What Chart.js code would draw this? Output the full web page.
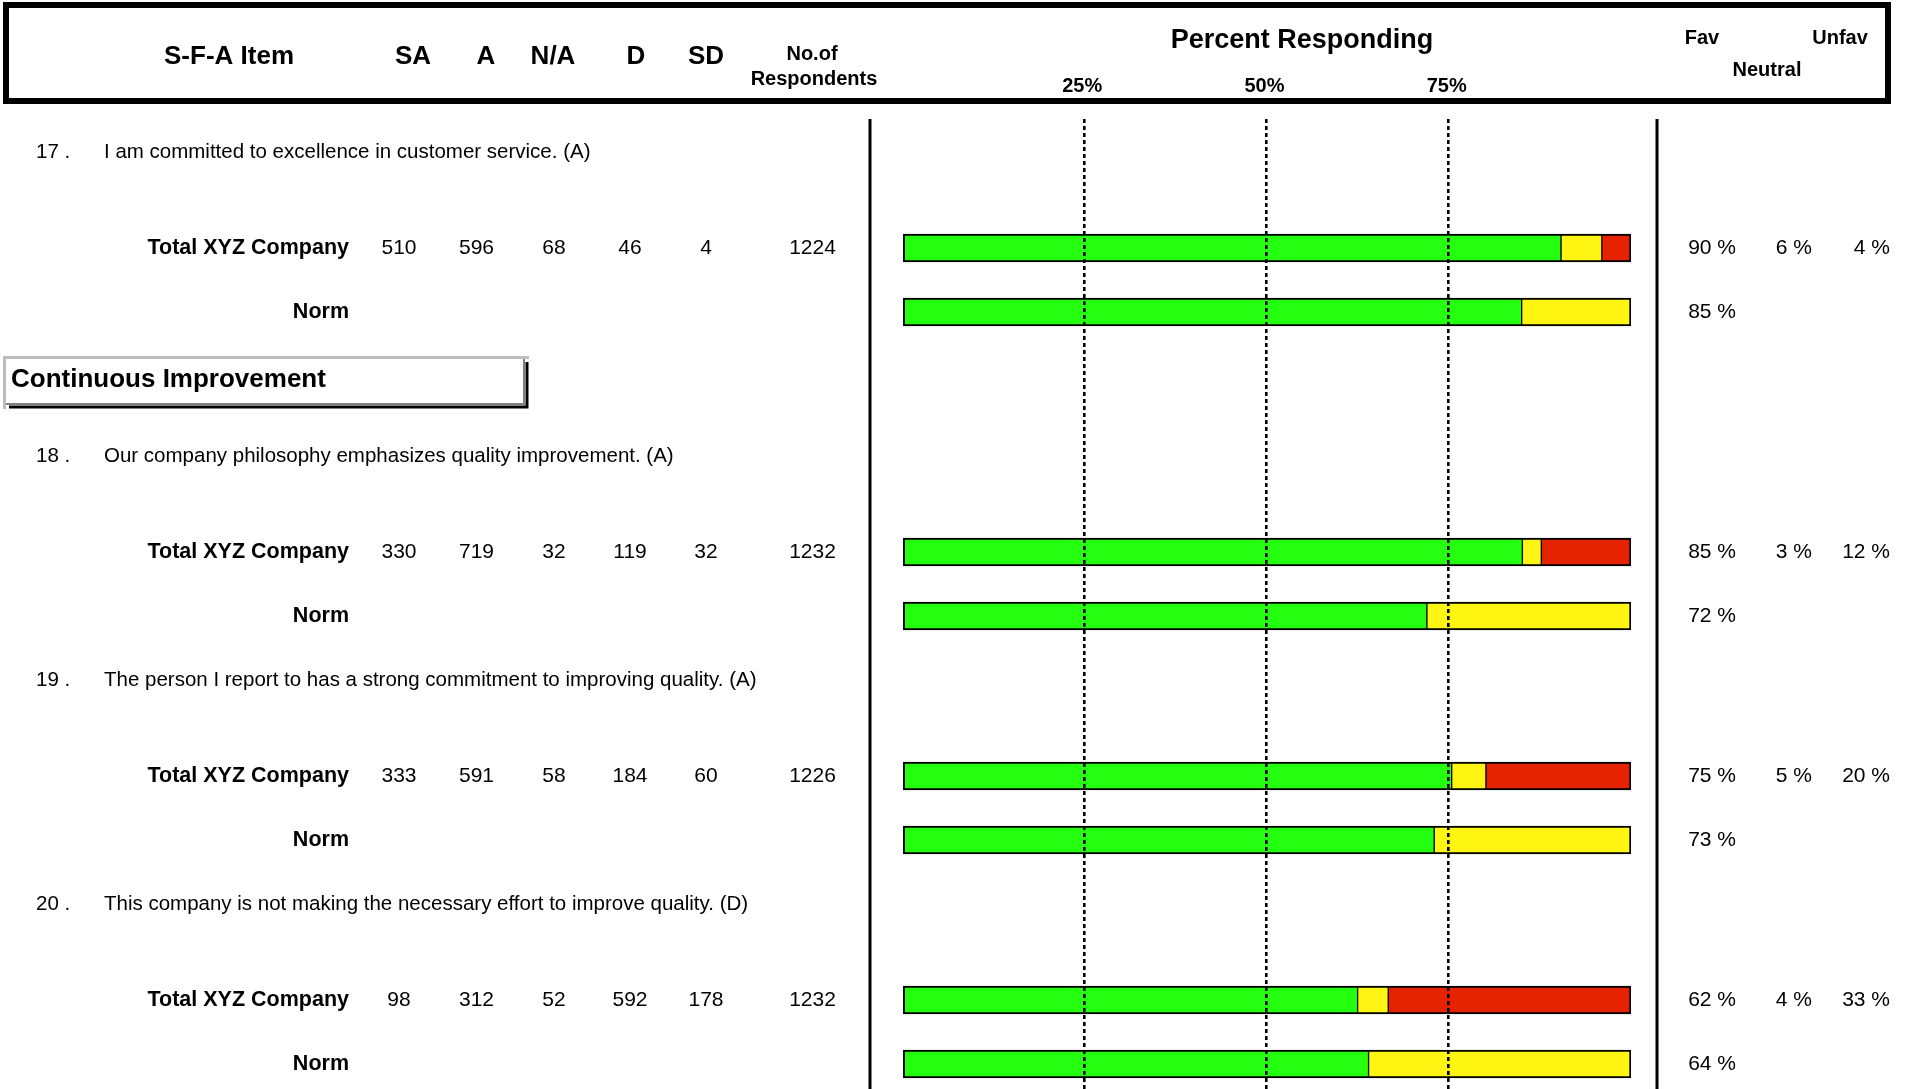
<!DOCTYPE html>
<html><head><meta charset="utf-8">
<script src="https://cdn.jsdelivr.net/npm/chart.js@4"></script>
<style>
html,body{margin:0;padding:0;background:#fff;overflow:hidden}
#wrap{position:relative;width:1906px;height:1089px}
</style>
</head><body>
<div id="wrap"><canvas id="c" width="1906" height="1089"></canvas></div>
<script>
// ---------- data ----------
const itemNumbers = ['17', '18', '19', '20'];
const itemTexts = [
  'I am committed to excellence in customer service. (A)',
  'Our company philosophy emphasizes quality improvement. (A)',
  'The person I report to has a strong commitment to improving quality. (A)',
  'This company is not making the necessary effort to improve quality. (D)'
];
const countSA = [510, 330, 333, 98];
const countA = [596, 719, 591, 312];
const countNA = [68, 32, 58, 52];
const countD = [46, 119, 184, 592];
const countSD = [4, 32, 60, 178];
const respondents = [1224, 1232, 1226, 1232];
const favPct = [90.4, 85.1, 75.4, 62.5];
const neutralPct = [5.6, 2.6, 4.7, 4.2];
const unfavPct = [4.0, 12.3, 19.9, 33.3];
const favLabels = ['90 %', '85 %', '75 %', '62 %'];
const neutralLabels = ['6 %', '3 %', '5 %', '4 %'];
const unfavLabels = ['4 %', '12 %', '20 %', '33 %'];
const normFavPct = [85, 72, 73, 64];
const normRestPct = [15, 28, 27, 36];
const normLabels = ['85 %', '72 %', '73 %', '64 %'];
const sectionTitles = ['Continuous Improvement'];
const sectionBeforeItem = [1];
const columnHeaders = ['SA', 'A', 'N/A', 'D', 'SD'];
const percentTicks = [25, 50, 75];
const totalLabel = 'Total XYZ Company';
const normLabel = 'Norm';

// ---------- layout (row positions in line units) ----------
const itemRow = [], totalRow = [], normRow = [], sectionRow = [];
{
  let r = 0;
  for (let i = 0; i < itemNumbers.length; i++) {
    if (i > 0) {
      const prev = r;
      r = prev + 14;
      const s = sectionBeforeItem.indexOf(i);
      if (s >= 0) { sectionRow[s] = prev + 14.25; r += 5; }
    }
    itemRow.push(r); totalRow.push(r + 6); normRow.push(r + 10);
  }
}

const GREEN = '#25ff10', YELLOW = '#fff512', RED = '#e62300';

function seg(ctx, first, last) {
  return { top: 2, bottom: 2, left: first ? 2 : 1, right: last ? 2 : 1 };
}

const favData = [], restData = [], unfavData = [];
for (let i = 0; i < itemNumbers.length; i++) {
  favData.push({ x: favPct[i], y: totalRow[i] }, { x: normFavPct[i], y: normRow[i] });
  restData.push({ x: neutralPct[i], y: totalRow[i] }, { x: normRestPct[i], y: normRow[i] });
  unfavData.push({ x: unfavPct[i], y: totalRow[i] });
}

const FONT = '"Liberation Sans", Arial, Helvetica, sans-serif';

const reportPlugin = {
  id: 'report',
  beforeDraw(chart) {
    const c = chart.ctx;
    c.save();
    c.fillStyle = '#fff';
    c.fillRect(0, 0, chart.width, chart.height);
    c.restore();
  },
  afterDraw(chart) {
    const c = chart.ctx, xs = chart.scales.x, ys = chart.scales.y, ca = chart.chartArea;
    c.save();
    // header box
    c.strokeStyle = '#000'; c.lineWidth = 6;
    c.strokeRect(6, 5, 1882, 96);
    c.fillStyle = '#000';
    c.textBaseline = 'middle';
    c.textAlign = 'center';
    c.font = 'bold 26px ' + FONT;
    c.fillText('S-F-A Item', 229, 57);
    const hdrX = [413, 486, 553, 636, 706];
    columnHeaders.forEach((h, k) => c.fillText(h, hdrX[k], 57));
    c.font = 'bold 27px ' + FONT;
    c.fillText('Percent Responding', 1302, 41);
    c.font = 'bold 20px ' + FONT;
    c.fillText('No.of', 812, 54);
    c.fillText('Respondents', 814, 79);
    percentTicks.forEach(v => c.fillText(v + '%', xs.getPixelForValue(v) - 2, 86));
    c.fillText('Fav', 1702, 38);
    c.fillText('Unfav', 1840, 38);
    c.fillText('Neutral', 1767, 70);

    // vertical separators
    c.lineWidth = 3;
    c.beginPath();
    c.moveTo(870, ca.top); c.lineTo(870, chart.height);
    c.moveTo(1657, ca.top); c.lineTo(1657, chart.height);
    c.stroke();

    // section boxes
    sectionTitles.forEach((t, s) => {
      const cy = ys.getPixelForValue(sectionRow[s]);
      const top = cy - 24, bot = cy + 29, left = 3, right = 529;
      c.fillStyle = '#fff';
      c.fillRect(left, top, right - left, bot - top);
      c.lineWidth = 3;
      c.strokeStyle = '#bdbdbd';
      c.beginPath();
      c.moveTo(left + 1.5, bot); c.lineTo(left + 1.5, top + 1.5); c.lineTo(right, top + 1.5);
      c.stroke();
      c.strokeStyle = '#808080';
      c.lineWidth = 2;
      c.beginPath();
      c.moveTo(left + 3, bot - 5); c.lineTo(right - 5, bot - 5); c.lineTo(right - 5, top + 3);
      c.stroke();
      c.strokeStyle = '#000';
      c.lineWidth = 3;
      c.beginPath();
      c.moveTo(left + 6, bot - 2); c.lineTo(right - 2, bot - 2); c.lineTo(right - 2, top + 6);
      c.stroke();
      c.fillStyle = '#000';
      c.textAlign = 'left';
      c.font = 'bold 26px ' + FONT;
      c.fillText(t, 11, cy);
    });

    // rows
    const numX = [399, 476.5, 554, 630, 706, 812.5];
    for (let i = 0; i < itemNumbers.length; i++) {
      const yi = ys.getPixelForValue(itemRow[i]);
      const yt = ys.getPixelForValue(totalRow[i]);
      const yn = ys.getPixelForValue(normRow[i]);
      c.fillStyle = '#000';
      c.textAlign = 'left';
      c.font = '20.5px ' + FONT;
      c.fillText(itemNumbers[i] + ' .', 36, yi);
      c.fillText(itemTexts[i], 104, yi);

      c.textAlign = 'right';
      c.font = 'bold 21.5px ' + FONT;
      c.fillText(totalLabel, 349, yt);
      c.fillText(normLabel, 349, yn);

      c.textAlign = 'center';
      c.font = '21px ' + FONT;
      const counts = [countSA[i], countA[i], countNA[i], countD[i], countSD[i], respondents[i]];
      counts.forEach((v, k) => c.fillText(String(v), numX[k], yt));

      c.textAlign = 'right';
      c.fillText(favLabels[i], 1736, yt);
      c.fillText(neutralLabels[i], 1812, yt);
      c.fillText(unfavLabels[i], 1890, yt);
      c.fillText(normLabels[i], 1736, yn);
    }
    c.restore();
  }
};

new Chart(document.getElementById('c'), {
  type: 'bar',
  data: {
    datasets: [
      { label: 'Fav', data: favData, backgroundColor: GREEN,
        borderWidth: ctx => seg(ctx, true, false) },
      { label: 'Neutral', data: restData, backgroundColor: YELLOW,
        borderWidth: ctx => seg(ctx, false, ctx.dataIndex % 2 === 1) },
      { label: 'Unfav', data: unfavData, backgroundColor: RED,
        borderWidth: ctx => seg(ctx, false, true) }
    ]
  },
  options: {
    indexAxis: 'y',
    responsive: false,
    animation: false,
    events: [],
    datasets: { bar: { barThickness: 28, borderColor: '#000', borderSkipped: false } },
    layout: { padding: { left: 902, right: 275, top: 119, bottom: 0 } },
    plugins: { legend: { display: false }, tooltip: { enabled: false } },
    scales: {
      x: {
        type: 'linear', min: 0, max: 100, stacked: true,
        ticks: { display: false, stepSize: 25 },
        border: { display: false, dash: [4, 3] },
        grid: {
          z: 1, drawTicks: false, lineWidth: 2.6,
          color: ctx => (ctx.tick && percentTicks.includes(ctx.tick.value)) ? '#000' : 'rgba(0,0,0,0)'
        }
      },
      y: {
        type: 'linear', min: -2.0625, max: 58.5625, reverse: true, stacked: true, offset: false,
        display: false
      }
    }
  },
  plugins: [reportPlugin]
});
</script>
</body></html>
